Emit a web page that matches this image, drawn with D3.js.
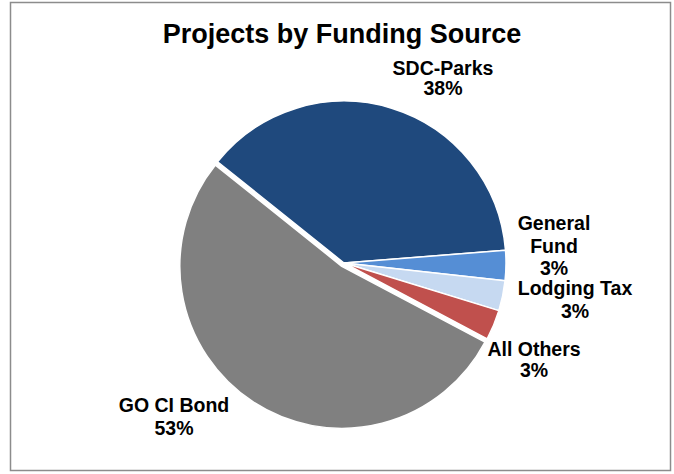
<!DOCTYPE html>
<html>
<head>
<meta charset="utf-8">
<script src="https://cdn.jsdelivr.net/npm/d3@7"></script>
<style>
  html, body { margin: 0; padding: 0; background: #fff; }
  svg { display: block; font-family: Arial, "Liberation Sans", sans-serif; }
</style>
</head>
<body>
<svg id="chart" width="674" height="474"></svg>
<script>
// Funding sources, in clockwise order from the SDC-Parks slice
const categories = ["SDC-Parks", "General Fund", "Lodging Tax", "All Others", "GO CI Bond"];
const shares = [38, 3, 3, 3, 53];
const sliceColors = ["#1F497D", "#558ED5", "#C6D9F1", "#C0504D", "#808080"];
const labelLines = [
  ["SDC-Parks", "38%"],
  ["General", "Fund", "3%"],
  ["Lodging Tax", "3%"],
  ["All Others", "3%"],
  ["GO CI Bond", "53%"]
];

const W = 674, H = 474;
const svg = d3.select("#chart");

// Chart frame
svg.append("rect")
  .attr("x", 10.5).attr("y", 2.5)
  .attr("width", 660).attr("height", 468)
  .attr("fill", "#fff")
  .attr("stroke", "#8c8c8c")
  .attr("stroke-width", 1.5);

// Title
svg.append("text")
  .attr("x", 342).attr("y", 43)
  .attr("text-anchor", "middle")
  .attr("font-size", 27)
  .attr("font-weight", "bold")
  .attr("fill", "#000")
  .text("Projects by Funding Source");

const cx = 344, cy = 263, radius = 162;
const startDeg = 308.7;

const pie = d3.pie()
  .sort(null)
  .value(d => d)
  .startAngle(startDeg * Math.PI / 180)
  .endAngle(startDeg * Math.PI / 180 + 2 * Math.PI);

const arcs = pie(shares);
const arc = d3.arc().innerRadius(0).outerRadius(radius);

// The largest slice is pulled slightly away from the centre
const explode = [0, 0, 0, 0, 4];

const g = svg.append("g").attr("transform", `translate(${cx},${cy})`);

g.selectAll("path")
  .data(arcs)
  .join("path")
  .attr("d", arc)
  .attr("fill", (d, i) => sliceColors[i])
  .attr("stroke", "#fff")
  .attr("stroke-width", 1.5)
  .attr("stroke-linejoin", "round")
  .attr("transform", (d, i) => {
    const mid = (d.startAngle + d.endAngle) / 2;
    const dx = Math.sin(mid) * explode[i];
    const dy = -Math.cos(mid) * explode[i];
    return `translate(${dx},${dy})`;
  });

// Label anchors (centre x, first baseline y) for each slice
const labelAnchor = [
  [443, 75],
  [554, 230],
  [575, 295],
  [534, 356],
  [174, 412]
];
const lineGap = [20, 22.5, 23, 21, 23];

labelLines.forEach((lines, i) => {
  const t = svg.append("text")
    .attr("text-anchor", "middle")
    .attr("font-size", 19.5)
    .attr("font-weight", "bold")
    .attr("fill", "#000");
  lines.forEach((ln, j) => {
    t.append("tspan")
      .attr("x", labelAnchor[i][0])
      .attr("y", labelAnchor[i][1] + j * lineGap[i])
      .text(ln);
  });
});
</script>
</body>
</html>
